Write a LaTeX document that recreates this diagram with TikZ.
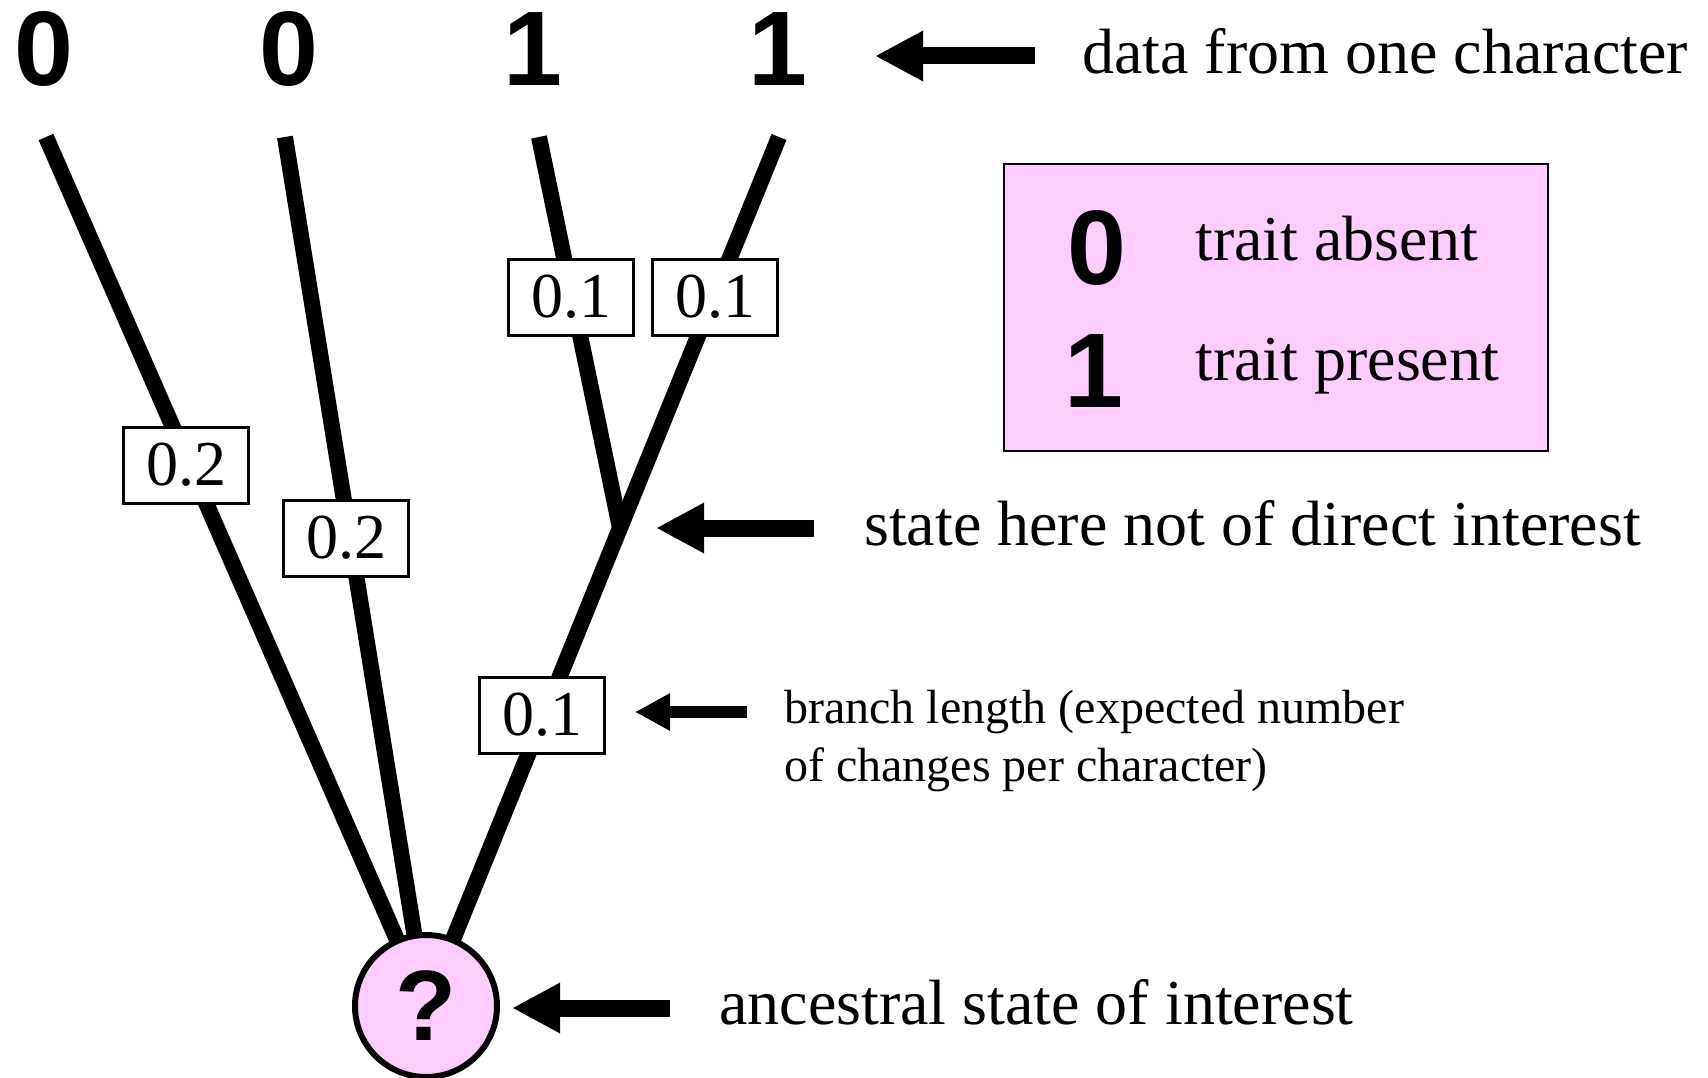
\documentclass[tikz,border=0pt]{standalone}
\usepackage{fontspec}
\setmainfont{Liberation Serif}
\newfontfamily\digitfont{Liberation Sans}
\usetikzlibrary{arrows.meta}
\definecolor{lpink}{RGB}{255,204,255}
\begin{document}
\begin{tikzpicture}[x=1pt,y=-1pt,
  branch/.style={line width=16pt},
  blen/.style={draw, line width=3pt, fill=white, minimum width=125pt, minimum height=76pt, inner sep=0pt, font=\fontsize{64}{70}\selectfont},
  bigdigit/.style={font=\digitfont\bfseries\fontsize{106}{110}\selectfont, inner sep=0pt, anchor=base},
  txt/.style={font=\fontsize{64}{70}\selectfont, inner sep=0pt, anchor=base west},
  smalltxt/.style={font=\fontsize{48}{58}\selectfont, inner sep=0pt, anchor=base west, align=left},
  bigarrow/.style={line width=17pt, -{Triangle[length=48pt,width=47pt]}},
  smallarrow/.style={line width=12pt, -{Triangle[length=35pt,width=35pt]}},
]
\useasboundingbox (0,0) rectangle (1708,1078);
% tree
\coordinate (rootc) at (426,1006);
\coordinate (l1) at (46,137);
\coordinate (l2) at (285,137);
\coordinate (l3) at (539,137);
\coordinate (l4) at (779,137);
\coordinate (inner) at (620,528);
\draw[branch] (l1) -- (rootc);
\draw[branch] (l2) -- (rootc);
\draw[branch] (l3) -- (inner);
\draw[branch] (l4) -- (inner) -- (rootc);
\node[circle, draw, line width=6pt, fill=lpink, minimum size=142pt, inner sep=0pt,
  font=\digitfont\bfseries\fontsize{100}{110}\selectfont] (root) at (rootc) {?};
% branch lengths
\node[blen] (bl1) at (186,465) {0.2};
\node[blen] (bl2) at (346,538) {0.2};
\node[blen] (bl3) at (571,297) {0.1};
\node[blen] (bl4) at (715,297) {0.1};
\node[blen] (bl5) at (542,715) {0.1};
% tip data
\node[bigdigit] (t1) at (44,86) {0};
\node[bigdigit] (t2) at (289,86) {0};
\node[bigdigit] (t3) at (533,86) {1};
\node[bigdigit] (t4) at (778,86) {1};
% legend
\node[draw, line width=2pt, fill=lpink, minimum width=544pt, minimum height=287pt,
  anchor=north west, inner sep=0pt] (legend) at (1003,163) {};
\node[bigdigit] (d0) at (1097,284) {0};
\node[bigdigit] (d1) at (1094,407) {1};
\node[txt] (tabs) at (1195,261) {trait absent};
\node[txt] (tpres) at (1195,380) {trait present};
% annotations
\node[txt] (tdata) at (1082,74) {data from one character};
\node[txt] (tstate) at (864,545) {state here not of direct interest};
\node[smalltxt] (tbranch) at (784,781) {branch length (expected number\\of changes per character)};
\node[txt] (tanc) at (719,1024) {ancestral state of interest};
% arrows
\coordinate (a1t) at (1035,56); \coordinate (a1h) at (875,56);
\coordinate (a2t) at (814,528); \coordinate (a2h) at (656,528);
\coordinate (a3t) at (747,712); \coordinate (a3h) at (635,712);
\coordinate (a4t) at (670,1008); \coordinate (a4h) at (512,1008);
\draw[bigarrow] (a1t) -- (a1h);
\draw[bigarrow] (a2t) -- (a2h);
\draw[smallarrow] (a3t) -- (a3h);
\draw[bigarrow] (a4t) -- (a4h);
\end{tikzpicture}
\end{document}
